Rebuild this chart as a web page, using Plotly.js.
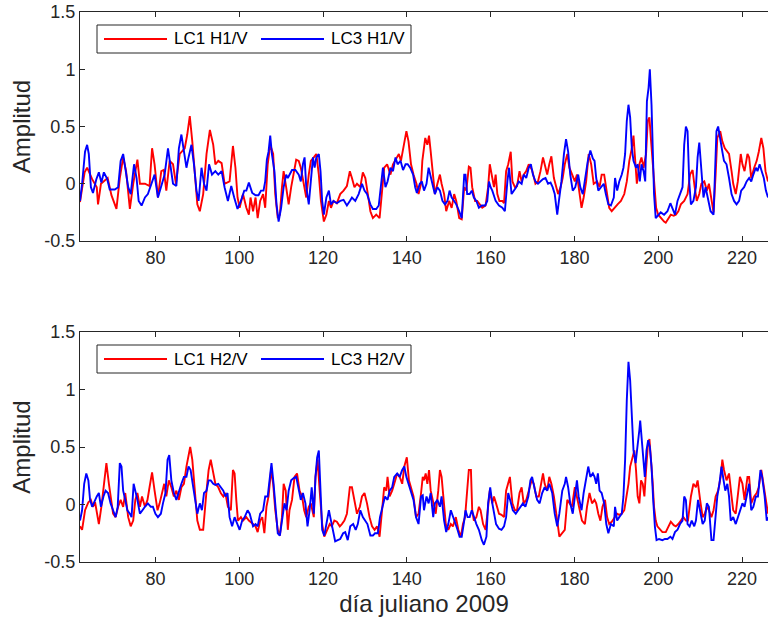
<!DOCTYPE html>
<html>
<head>
<meta charset="utf-8">
<script src="https://cdn.plot.ly/plotly-3.0.1.min.js"></script>
<style>html,body{margin:0;padding:0;background:#fff;}#chart{width:768px;height:625px;}</style>
</head>
<body>
<div id="chart"></div>
<script>
// [día juliano, amplitud] pairs
const lc1H1 = [[62.0,-0.16],[63.1,0.10],[63.7,0.14],[64.9,0.04],[66.0,-0.03],[66.3,-0.18],[67.0,0.00],[68.6,0.05],[69.5,-0.10],[70.7,-0.22],[71.5,0.05],[72.3,0.23],[73.0,0.11],[73.9,-0.22],[74.7,0.0],[75.7,0.21],[76.3,0.0],[77.5,0.0],[78.6,-0.02],[79.2,0.31],[79.8,0.17],[80.6,-0.12],[81.4,0.11],[82.0,0.12],[82.6,-0.06],[83.4,0.20],[84.2,0.17],[84.9,0.00],[85.8,0.26],[87.0,0.31],[87.6,0.43],[88.2,0.59],[88.8,0.37],[89.4,0.11],[90.0,-0.18],[90.6,-0.24],[91.4,-0.09],[92.2,0.26],[93.0,0.47],[93.8,0.34],[94.3,0.17],[95.0,0.20],[95.8,0.18],[96.5,0.00],[97.7,0.02],[98.5,0.33],[99.1,0.14],[99.6,-0.12],[100.1,-0.21],[100.9,-0.09],[101.7,-0.21],[102.3,-0.27],[102.7,-0.12],[103.3,-0.24],[103.9,-0.12],[104.4,-0.30],[105.0,-0.15],[105.7,-0.09],[106.2,-0.21],[106.8,0.17],[107.4,0.34],[108.1,0.26],[108.6,-0.09],[109.2,-0.30],[109.7,-0.27],[110.2,-0.03],[110.6,0.11],[111.2,-0.03],[111.8,-0.18],[112.4,-0.03],[113.0,0.11],[113.6,0.21],[114.2,0.20],[114.7,0.14],[115.4,0.00],[116.0,-0.12],[116.6,0.08],[117.1,0.20],[117.8,0.23],[118.4,0.26],[119.0,0.08],[119.5,-0.15],[120.2,-0.33],[120.8,-0.27],[121.4,-0.15],[121.9,-0.21],[122.5,-0.15],[123.3,-0.17],[124.1,-0.09],[124.9,-0.06],[125.7,-0.02],[126.4,0.11],[126.9,0.05],[127.5,-0.03],[128.1,0.00],[128.9,-0.03],[129.5,0.10],[130.1,0.05],[130.7,-0.09],[131.3,-0.24],[131.9,-0.30],[132.7,-0.27],[133.5,-0.30],[134.1,-0.03],[134.6,0.14],[135.3,0.17],[136.1,0.08],[136.7,0.17],[137.5,0.23],[138.1,0.26],[138.6,0.20],[139.3,0.34],[139.9,0.46],[140.4,0.37],[141.0,0.17],[141.6,0.08],[142.3,0.00],[142.8,-0.09],[143.4,0.00],[143.7,0.20],[144.4,0.40],[144.9,0.34],[145.3,0.42],[145.7,0.28],[146.1,0.11],[146.7,-0.09],[147.3,0.00],[147.9,0.08],[148.3,0.00],[148.9,-0.09],[149.4,-0.24],[150.1,-0.15],[150.7,-0.21],[151.3,-0.09],[151.8,-0.15],[152.5,-0.30],[153.1,-0.31],[153.7,-0.03],[154.2,-0.06],[154.8,0.15],[155.2,0.14],[155.6,-0.03],[156.3,-0.15],[156.8,-0.15],[157.4,-0.18],[158.0,-0.21],[158.8,-0.19],[159.4,-0.03],[159.8,0.17],[160.2,0.08],[160.8,-0.03],[161.2,0.08],[161.6,-0.09],[162.1,-0.15],[162.8,-0.15],[163.2,-0.17],[163.7,0.11],[164.2,0.17],[164.8,0.28],[165.2,0.02],[165.8,-0.03],[166.3,-0.02],[166.9,0.11],[167.4,0.02],[167.9,0.08],[168.5,0.11],[169.1,0.17],[169.9,0.12],[170.7,0.00],[171.3,0.02],[171.9,0.11],[172.5,0.23],[172.9,0.17],[173.5,0.08],[174.0,0.17],[174.5,0.24],[175.1,0.05],[175.5,0.00],[176.1,-0.09],[176.7,-0.03],[177.2,0.05],[177.7,0.17],[178.3,0.26],[178.8,0.14],[179.4,0.08],[180.1,0.02],[180.6,0.08],[181.2,-0.06],[181.7,-0.21],[182.2,-0.12],[182.8,0.02],[183.4,0.26],[184.0,0.17],[184.6,0.00],[185.4,0.02],[186.0,-0.03],[186.5,0.08],[187.1,0.08],[187.8,-0.09],[188.3,-0.21],[188.9,-0.24],[189.5,-0.21],[190.3,-0.18],[191.1,-0.15],[191.9,-0.09],[192.5,0.02],[193.1,0.20],[193.7,0.31],[194.1,0.42],[194.4,0.26],[194.9,0.00],[195.5,0.17],[196.0,0.23],[196.5,0.14],[197.1,0.26],[197.5,0.55],[197.9,0.58],[198.3,0.37],[198.7,0.20],[199.0,0.00],[199.5,-0.21],[200.0,-0.27],[200.6,-0.30],[201.4,-0.33],[201.8,-0.34],[202.4,-0.31],[203.0,-0.27],[203.7,-0.28],[204.2,-0.27],[204.8,-0.24],[205.4,-0.18],[206.2,-0.15],[207.0,-0.09],[207.6,0.08],[208.2,0.12],[208.7,-0.03],[209.2,-0.15],[209.8,-0.09],[210.3,0.00],[211.0,0.02],[211.6,-0.06],[212.1,0.00],[212.7,-0.15],[213.2,-0.25],[213.7,0.08],[214.1,0.40],[214.8,0.46],[215.3,0.37],[215.9,0.31],[216.5,0.28],[216.9,0.26],[217.5,0.11],[217.9,0.00],[218.5,-0.09],[219.0,0.02],[219.7,0.26],[220.1,0.17],[220.6,0.11],[221.3,0.26],[221.7,0.23],[222.2,0.05],[222.9,0.14],[223.5,0.20],[224.0,0.28],[224.6,0.40],[225.1,0.31],[225.6,0.11],[226.2,0.02]];

const lc3H1 = [[62.0,-0.15],[62.5,0.00],[63.2,0.28],[63.7,0.34],[64.1,0.26],[64.6,-0.03],[65.1,-0.08],[65.9,0.04],[66.5,0.10],[67.1,0.01],[67.7,0.10],[68.5,0.04],[69.1,-0.05],[70.3,-0.05],[71.1,-0.03],[71.7,0.20],[72.3,0.26],[72.8,0.14],[73.5,-0.03],[74.1,-0.09],[74.9,0.17],[75.5,0.05],[76.0,-0.15],[76.7,-0.19],[77.5,-0.12],[78.2,-0.09],[79.0,0.00],[79.8,0.08],[80.6,-0.12],[81.4,-0.03],[82.2,0.08],[83.0,0.31],[83.7,0.14],[84.2,0.00],[85.0,-0.02],[85.6,0.31],[86.2,0.43],[86.8,0.26],[87.4,0.14],[87.9,0.23],[88.6,0.34],[89.2,0.17],[89.8,-0.06],[90.3,-0.15],[91.0,0.14],[91.6,0.00],[92.2,-0.06],[92.8,0.17],[93.5,0.08],[94.3,0.11],[95.0,0.08],[95.8,0.11],[96.5,-0.03],[97.3,-0.15],[98.1,-0.02],[98.8,-0.12],[99.6,-0.22],[100.4,-0.15],[101.2,-0.06],[101.7,-0.06],[102.3,0.01],[103.1,-0.08],[103.9,-0.10],[104.6,-0.10],[105.2,-0.06],[105.8,-0.06],[106.2,0.02],[106.6,0.21],[107.0,0.28],[107.4,0.42],[107.8,0.26],[108.4,0.11],[108.9,-0.18],[109.4,-0.33],[110.0,-0.21],[110.6,-0.03],[111.2,0.08],[111.6,0.05],[112.0,0.08],[112.6,0.12],[113.4,0.12],[114.2,0.08],[114.7,0.02],[115.2,0.17],[115.6,0.23],[116.0,-0.03],[116.6,-0.18],[117.1,0.02],[117.6,0.23],[118.0,0.14],[118.4,0.23],[119.0,0.26],[119.4,0.11],[119.8,-0.15],[120.2,-0.27],[120.8,-0.12],[121.4,-0.06],[121.9,-0.18],[122.5,-0.15],[123.3,-0.17],[124.1,-0.15],[124.9,-0.14],[125.7,-0.19],[126.4,-0.15],[126.9,-0.12],[127.7,-0.15],[128.5,-0.09],[129.3,0.00],[129.9,-0.06],[130.5,-0.09],[131.3,-0.18],[131.9,-0.22],[132.7,-0.22],[133.3,-0.19],[133.8,0.00],[134.3,0.14],[134.9,-0.03],[135.4,0.02],[136.1,0.14],[136.7,0.11],[137.3,0.23],[137.8,0.17],[138.5,0.20],[139.1,0.12],[139.7,0.17],[140.2,0.17],[140.8,0.14],[141.5,0.08],[142.0,-0.03],[142.4,-0.08],[143.1,0.00],[143.6,0.02],[144.1,-0.06],[144.7,0.00],[145.2,0.14],[145.7,0.05],[146.3,-0.03],[146.7,-0.09],[147.3,-0.03],[147.9,-0.06],[148.5,-0.15],[149.1,-0.18],[149.7,-0.15],[150.2,-0.06],[150.7,-0.12],[151.3,-0.15],[151.8,-0.18],[152.5,-0.24],[153.1,-0.30],[153.7,0.08],[154.0,0.08],[154.4,-0.09],[155.0,-0.09],[155.5,-0.06],[156.0,-0.12],[156.6,-0.15],[157.2,-0.21],[157.9,-0.19],[158.7,-0.19],[159.2,-0.15],[159.6,0.02],[160.0,-0.03],[160.4,-0.06],[161.2,-0.15],[162.0,-0.19],[162.8,-0.21],[163.4,-0.24],[164.0,0.02],[164.4,0.14],[165.0,-0.09],[165.6,-0.06],[166.1,-0.03],[166.7,0.02],[167.4,0.00],[167.9,0.08],[168.5,0.05],[169.1,0.14],[169.6,0.17],[170.1,0.08],[170.7,0.02],[171.3,0.00],[171.9,0.02],[172.5,0.04],[173.1,0.05],[173.7,0.00],[174.3,0.01],[174.8,-0.03],[175.3,-0.09],[175.9,-0.27],[176.3,-0.15],[176.9,0.02],[177.5,0.26],[178.0,0.39],[178.5,0.28],[179.0,0.08],[179.6,-0.06],[180.2,-0.03],[180.9,0.08],[181.4,-0.03],[182.0,-0.09],[182.6,0.05],[183.2,0.20],[183.8,0.29],[184.4,0.22],[184.8,0.20],[185.2,0.05],[185.7,-0.06],[186.3,-0.03],[187.0,0.00],[187.5,-0.09],[188.1,-0.18],[188.7,-0.19],[189.4,-0.12],[189.7,0.05],[190.2,-0.06],[190.7,0.02],[191.3,0.08],[191.7,0.14],[192.1,0.26],[192.5,0.55],[192.9,0.69],[193.3,0.58],[193.7,0.31],[194.1,0.20],[194.7,0.14],[195.1,0.17],[195.6,0.02],[196.0,0.17],[196.5,0.11],[196.9,0.02],[197.3,0.72],[197.7,0.84],[198.0,1.00],[198.4,0.69],[198.7,0.26],[199.0,-0.09],[199.4,-0.30],[200.0,-0.27],[200.6,-0.25],[201.4,-0.27],[202.2,-0.24],[202.9,-0.17],[203.4,-0.21],[204.0,-0.27],[204.6,-0.15],[205.2,-0.09],[205.8,-0.03],[206.2,0.34],[206.6,0.50],[207.0,0.46],[207.4,0.02],[207.8,-0.18],[208.4,-0.15],[209.0,-0.03],[209.4,0.23],[209.8,0.36],[210.2,0.17],[210.8,-0.12],[211.3,-0.03],[211.9,-0.15],[212.5,-0.24],[213.2,-0.27],[213.5,0.08],[213.9,0.46],[214.3,0.50],[214.8,0.37],[215.3,0.28],[215.7,0.20],[216.3,0.17],[216.9,0.05],[217.5,-0.09],[218.1,-0.15],[218.7,-0.18],[219.3,-0.15],[219.8,-0.06],[220.5,-0.03],[221.1,0.02],[221.7,0.05],[222.2,0.02],[222.7,0.08],[223.3,0.14],[223.7,0.11],[224.2,0.17],[224.7,0.11],[225.2,0.05],[225.7,-0.06],[226.2,-0.12]];

const lc1H2 = [[62.0,-0.19],[62.5,-0.22],[63.2,-0.05],[64.0,0.02],[64.6,0.04],[65.1,-0.02],[65.6,0.02],[66.2,-0.11],[66.5,-0.17],[67.1,-0.02],[67.7,0.18],[68.3,0.36],[68.9,0.18],[69.5,0.01],[69.9,-0.08],[70.5,-0.11],[71.1,-0.02],[71.7,0.04],[72.3,-0.02],[72.8,0.10],[73.5,-0.11],[74.1,-0.19],[74.7,-0.14],[75.2,0.04],[75.7,0.10],[76.3,-0.02],[76.8,0.07],[77.5,-0.02],[78.1,0.04],[78.6,0.15],[79.2,0.28],[79.8,0.12],[80.5,-0.05],[81.0,0.01],[81.6,0.12],[82.1,0.18],[82.6,0.07],[83.2,0.21],[83.8,0.15],[84.4,0.07],[85.0,0.12],[85.6,0.04],[86.2,0.15],[86.8,0.18],[87.4,0.33],[87.9,0.44],[88.3,0.50],[88.8,0.39],[89.4,0.12],[90.0,-0.14],[90.6,-0.22],[91.4,-0.22],[92.2,0.12],[92.7,0.30],[93.2,0.39],[93.8,0.27],[94.3,0.18],[95.0,0.15],[95.6,0.10],[96.2,0.07],[96.7,0.10],[97.3,-0.02],[98.0,-0.05],[98.5,0.30],[98.9,0.27],[99.3,0.04],[99.7,-0.14],[100.4,-0.11],[100.9,-0.14],[101.7,-0.11],[102.3,-0.14],[103.3,-0.17],[103.9,-0.19],[104.4,-0.24],[105.0,-0.14],[105.5,-0.11],[106.0,-0.25],[106.5,-0.02],[107.0,0.07],[107.6,0.30],[108.1,0.18],[108.6,-0.05],[109.2,-0.22],[109.7,-0.27],[110.2,-0.11],[110.6,0.18],[111.1,0.12],[111.6,-0.22],[112.0,-0.05],[112.6,0.04],[113.2,0.24],[113.8,0.27],[114.4,0.12],[115.0,0.07],[115.5,-0.05],[116.0,-0.11],[116.6,-0.02],[117.1,0.01],[117.8,-0.11],[118.2,0.24],[118.7,0.39],[119.2,0.12],[119.8,-0.17],[120.3,-0.28],[121.0,-0.22],[121.6,-0.17],[122.1,-0.19],[122.7,-0.14],[123.3,-0.15],[124.0,-0.19],[124.5,-0.17],[125.1,-0.14],[125.7,-0.08],[126.4,0.15],[126.9,0.15],[127.5,0.04],[128.1,-0.08],[128.8,-0.02],[129.3,0.07],[129.9,0.10],[130.5,0.01],[131.1,-0.11],[131.7,-0.19],[132.3,-0.22],[132.9,-0.19],[133.5,-0.28],[134.1,-0.05],[134.6,0.15],[135.1,0.12],[135.4,0.24],[135.9,0.07],[136.5,0.12],[137.0,0.18],[137.7,0.27],[138.3,0.24],[138.9,0.18],[139.4,0.33],[140.0,0.41],[140.5,0.21],[141.0,0.15],[141.6,0.07],[142.2,-0.11],[142.8,-0.08],[143.4,0.10],[143.8,0.24],[144.1,0.21],[144.5,0.27],[144.9,0.18],[145.3,0.30],[145.7,0.12],[146.3,0.01],[146.9,-0.08],[147.5,0.12],[147.9,0.30],[148.3,0.24],[148.8,0.04],[149.3,-0.17],[149.9,-0.22],[150.5,-0.17],[151.0,-0.19],[151.7,-0.11],[152.3,-0.22],[152.9,-0.28],[153.4,-0.17],[153.9,-0.11],[154.4,0.12],[154.8,0.30],[155.3,0.30],[155.6,-0.05],[156.0,-0.14],[156.6,-0.11],[157.2,-0.02],[157.6,-0.05],[158.2,-0.17],[158.8,-0.22],[159.4,-0.02],[159.8,0.12],[160.4,0.01],[160.8,0.07],[161.3,0.01],[162.0,-0.08],[162.6,-0.09],[163.2,-0.11],[163.7,0.12],[164.2,0.18],[164.6,0.24],[165.2,0.01],[165.8,-0.05],[166.3,-0.05],[166.9,0.10],[167.4,0.15],[167.9,0.01],[168.5,0.04],[169.1,0.12],[169.8,0.21],[170.3,0.18],[170.9,0.07],[171.5,0.07],[172.1,0.21],[172.5,0.27],[172.9,0.18],[173.5,0.12],[174.0,0.24],[174.5,0.18],[175.1,0.07],[175.5,-0.02],[175.9,-0.14],[176.4,-0.28],[177.1,-0.25],[177.7,-0.22],[178.3,0.04],[178.8,0.01],[179.4,-0.02],[180.1,0.15],[180.6,0.07],[181.2,-0.05],[181.8,-0.14],[182.5,-0.17],[183.0,-0.02],[183.6,0.10],[184.2,0.01],[184.8,0.04],[185.2,0.01],[185.7,-0.08],[186.2,-0.14],[186.7,-0.02],[187.3,0.04],[187.8,-0.11],[188.3,-0.17],[188.9,-0.15],[189.5,-0.12],[190.2,-0.08],[190.7,-0.09],[191.3,-0.08],[191.9,-0.05],[192.4,0.07],[192.9,0.18],[193.3,0.33],[193.9,0.41],[194.3,0.47],[194.7,0.30],[195.1,0.07],[195.5,0.01],[195.9,0.21],[196.3,0.18],[196.7,0.07],[197.1,0.30],[197.5,0.50],[197.9,0.57],[198.3,0.41],[198.7,0.18],[199.0,-0.02],[199.4,-0.14],[199.8,-0.19],[200.5,-0.22],[201.0,-0.24],[201.8,-0.24],[202.4,-0.19],[203.0,-0.15],[203.7,-0.18],[204.2,-0.19],[204.8,-0.17],[205.4,-0.14],[206.0,-0.11],[206.6,-0.14],[207.1,-0.14],[207.8,0.07],[208.4,0.18],[209.0,0.15],[209.4,0.21],[210.0,0.04],[210.6,-0.11],[211.1,-0.08],[211.6,-0.02],[212.1,-0.05],[212.7,-0.11],[213.2,-0.05],[213.7,0.07],[214.3,0.12],[214.9,0.24],[215.3,0.39],[215.7,0.30],[216.3,0.21],[216.9,0.27],[217.5,0.07],[217.9,-0.05],[218.5,-0.08],[219.0,0.10],[219.5,0.24],[220.1,0.18],[220.6,0.04],[221.3,0.24],[221.7,0.24],[222.2,0.01],[222.9,0.07],[223.5,0.10],[224.0,0.15],[224.6,0.30],[225.1,0.18],[225.6,0.04],[226.2,-0.08]];

const lc3H2 = [[62.0,-0.14],[62.5,-0.05],[63.0,0.18],[63.5,0.27],[64.0,0.21],[64.4,0.04],[64.9,-0.02],[65.6,0.04],[66.0,0.07],[66.5,0.10],[67.0,-0.02],[67.6,0.07],[68.1,0.12],[68.7,0.10],[69.3,0.01],[69.9,-0.05],[70.5,-0.11],[71.0,-0.02],[71.5,0.36],[71.9,0.33],[72.3,0.12],[72.8,0.04],[73.3,-0.05],[73.9,-0.08],[74.3,-0.11],[74.8,0.18],[75.2,0.12],[75.7,0.04],[76.3,-0.08],[76.8,-0.05],[77.5,-0.02],[78.2,0.01],[78.9,-0.02],[79.4,-0.02],[80.0,-0.08],[80.6,-0.11],[81.3,-0.08],[81.8,0.01],[82.4,0.10],[82.9,0.39],[83.3,0.43],[83.8,0.21],[84.4,0.10],[85.0,0.04],[85.6,0.12],[86.2,0.18],[86.8,0.24],[87.4,0.24],[87.9,0.33],[88.4,0.30],[88.9,0.18],[89.5,0.01],[90.0,-0.08],[90.6,0.01],[91.1,-0.05],[91.6,0.10],[92.2,0.12],[92.7,0.21],[93.2,0.21],[93.8,0.18],[94.3,0.17],[95.0,0.18],[95.6,0.15],[96.2,0.12],[96.7,0.07],[97.2,0.10],[97.7,-0.11],[98.3,-0.19],[98.9,-0.11],[99.6,-0.17],[100.1,-0.22],[100.7,-0.14],[101.3,-0.11],[102.0,-0.05],[102.5,-0.08],[103.3,-0.19],[103.9,-0.17],[104.4,-0.19],[105.0,-0.08],[105.7,-0.05],[106.2,0.07],[106.8,0.07],[107.3,0.24],[107.7,0.36],[108.2,0.18],[108.7,-0.08],[109.2,-0.25],[109.7,-0.27],[110.2,-0.14],[110.8,0.01],[111.3,-0.05],[111.8,0.12],[112.4,0.21],[113.0,0.23],[113.6,0.24],[114.2,0.12],[114.7,0.04],[115.2,0.10],[115.8,0.01],[116.3,-0.19],[116.8,-0.05],[117.3,0.15],[117.8,-0.08],[118.2,0.24],[118.6,0.41],[119.0,0.47],[119.4,0.18],[119.8,-0.22],[120.3,-0.27],[120.8,-0.17],[121.4,-0.05],[121.9,-0.14],[122.4,-0.25],[122.9,-0.32],[123.5,-0.31],[124.1,-0.30],[124.8,-0.25],[125.3,-0.24],[125.9,-0.31],[126.5,-0.19],[127.2,-0.17],[127.8,-0.22],[128.3,-0.17],[128.9,-0.05],[129.5,-0.11],[130.1,-0.14],[130.6,-0.17],[131.3,-0.27],[131.9,-0.27],[132.4,-0.25],[133.1,-0.25],[133.6,-0.11],[134.3,0.01],[134.8,0.07],[135.4,0.04],[135.9,0.12],[136.5,0.15],[137.0,0.24],[137.7,0.27],[138.3,0.24],[138.9,0.30],[139.4,0.33],[139.9,0.24],[140.4,0.18],[141.0,0.12],[141.6,0.04],[142.2,-0.11],[142.8,-0.17],[143.4,0.07],[143.8,0.08],[144.1,-0.05],[144.7,0.07],[145.2,0.01],[145.7,0.10],[146.3,-0.11],[146.7,0.01],[147.3,0.04],[147.9,-0.02],[148.3,0.07],[148.9,-0.14],[149.4,-0.24],[149.9,-0.17],[150.5,-0.05],[151.0,-0.11],[151.5,-0.17],[152.1,-0.22],[152.6,-0.28],[153.1,-0.28],[153.7,-0.14],[154.0,-0.05],[154.5,-0.11],[155.0,-0.11],[155.5,-0.05],[156.0,-0.11],[156.6,-0.17],[157.2,-0.22],[157.9,-0.31],[158.4,-0.35],[159.0,-0.28],[159.4,0.01],[159.9,0.15],[160.4,0.01],[160.9,-0.11],[161.3,-0.17],[162.0,-0.21],[162.6,-0.22],[163.2,-0.19],[163.7,-0.11],[164.2,0.10],[164.8,0.01],[165.3,-0.05],[166.0,-0.08],[166.6,-0.05],[167.1,-0.02],[167.7,0.01],[168.3,-0.02],[169.0,0.07],[169.5,0.21],[169.9,0.24],[170.6,0.12],[171.1,0.04],[171.7,0.01],[172.3,0.10],[172.9,0.15],[173.5,0.12],[174.0,0.18],[174.7,0.10],[175.3,-0.08],[175.9,-0.19],[176.4,-0.08],[177.1,0.12],[177.7,0.18],[178.0,0.24],[178.5,0.15],[179.0,0.01],[179.6,-0.08],[180.1,0.07],[180.6,0.21],[181.0,0.07],[181.7,-0.05],[182.2,0.10],[182.8,0.24],[183.3,0.33],[183.8,0.24],[184.4,0.27],[184.8,0.24],[185.2,0.18],[185.6,0.27],[186.0,0.12],[186.5,0.10],[187.1,0.01],[187.6,-0.17],[188.1,-0.25],[188.7,-0.17],[189.4,-0.19],[189.7,-0.02],[190.2,-0.14],[190.7,-0.11],[191.3,-0.08],[191.7,0.07],[192.1,0.39],[192.5,0.91],[192.9,1.24],[193.3,1.08],[193.7,0.70],[194.1,0.47],[194.6,0.36],[195.1,0.50],[195.5,0.65],[195.7,0.73],[196.0,0.59],[196.4,0.36],[196.8,0.24],[197.2,0.47],[197.6,0.56],[198.0,0.50],[198.4,0.33],[198.8,0.04],[199.2,-0.19],[199.6,-0.31],[200.2,-0.30],[201.0,-0.31],[201.6,-0.30],[202.2,-0.30],[202.9,-0.28],[203.4,-0.30],[204.0,-0.24],[204.6,-0.22],[205.2,-0.17],[205.8,-0.14],[206.2,0.07],[206.6,0.04],[207.0,-0.17],[207.5,-0.19],[208.0,-0.14],[208.6,-0.19],[209.0,-0.14],[209.5,0.04],[210.0,-0.05],[210.6,-0.17],[211.1,-0.14],[211.6,0.01],[212.1,-0.02],[212.7,-0.31],[213.2,-0.31],[213.7,-0.11],[214.1,0.07],[214.6,0.18],[215.1,0.33],[215.6,0.21],[216.0,0.12],[216.5,0.18],[216.9,0.07],[217.3,-0.14],[217.9,-0.11],[218.5,-0.17],[219.0,-0.11],[219.5,-0.05],[220.1,0.01],[220.6,-0.02],[221.3,0.12],[221.7,0.18],[222.2,-0.05],[222.7,-0.02],[223.3,0.07],[223.8,0.07],[224.4,0.30],[224.8,0.24],[225.4,0.07],[225.9,-0.14],[226.2,-0.11]];

const seriesNames = ["LC1 H1/V", "LC3 H1/V", "LC1 H2/V", "LC3 H2/V"];
const xTickVals = [80, 100, 120, 140, 160, 180, 200, 220];
const yTickVals = [-0.5, 0, 0.5, 1, 1.5];
const yTickText = ["-0.5", "0", "0.5", "1", "1.5"];
const xTitle = "día juliano 2009";
const yTitle = "Amplitud";

const RED = "#ff0000", BLUE = "#0000ff", AX = "#262626";
const FONT = "Liberation Sans, Arial, sans-serif";
const W = 768, H = 625, ML = 80, MR = 0, MT = 12, MB = 63;
const PW = W - ML - MR, PH = H - MT - MB;
const px2x = p => (p - ML) / PW;          // pixel -> paper x
const px2y = p => (H - MB - p) / PH;      // pixel -> paper y

function tr(data, name, color, xa, ya) {
  return {
    x: data.map(p => p[0]), y: data.map(p => p[1]),
    type: "scatter", mode: "lines", name: name,
    line: {color: color, width: 1.9},
    xaxis: xa, yaxis: ya, hoverinfo: "skip", showlegend: false
  };
}
const traces = [
  tr(lc1H1, seriesNames[0], RED, "x", "y"),
  tr(lc3H1, seriesNames[1], BLUE, "x", "y"),
  tr(lc1H2, seriesNames[2], RED, "x2", "y2"),
  tr(lc3H2, seriesNames[3], BLUE, "x2", "y2")
];

function xax(anchor, withTitle) {
  const a = {
    anchor: anchor, range: [62, 226.2], tickvals: xTickVals,
    ticks: "inside", ticklen: 5, tickwidth: 1, tickcolor: AX,
    showline: true, linecolor: AX, linewidth: 1, mirror: "ticks",
    showgrid: false, zeroline: false,
    tickfont: {family: FONT, size: 18, color: AX}
  };
  if (withTitle) a.title = {text: xTitle, font: {family: FONT, size: 24, color: AX}, standoff: 7};
  return a;
}
function yax(anchor, dom) {
  return {
    anchor: anchor, domain: dom, range: [-0.5, 1.5],
    tickvals: yTickVals, ticktext: yTickText,
    ticks: "inside", ticklen: 5, tickwidth: 1, tickcolor: AX,
    showline: true, linecolor: AX, linewidth: 1, mirror: false,
    showgrid: false, zeroline: false,
    tickfont: {family: FONT, size: 18, color: AX},
    title: {text: yTitle, font: {family: FONT, size: 24, color: AX}, standoff: 6}
  };
}

// legend boxes drawn as shapes + text annotations (pixel positions of the reference)
const shapes = [], annotations = [];
function legendBox(topPx, names) {
  const bot = topPx + 28, mid = topPx + 14;
  shapes.push({type: "rect", xref: "paper", yref: "paper",
    x0: px2x(97), x1: px2x(411), y0: px2y(bot), y1: px2y(topPx),
    line: {color: AX, width: 1}, fillcolor: "#ffffff", layer: "above"});
  const items = [{x0: 104, x1: 167, tx: 172, c: RED, n: names[0]},
                 {x0: 261, x1: 324, tx: 329, c: BLUE, n: names[1]}];
  items.forEach(it => {
    shapes.push({type: "line", xref: "paper", yref: "paper",
      x0: px2x(it.x0), x1: px2x(it.x1), y0: px2y(mid), y1: px2y(mid),
      line: {color: it.c, width: 2}, layer: "above"});
    annotations.push({xref: "paper", yref: "paper", x: px2x(it.tx), y: px2y(mid),
      xanchor: "left", yanchor: "middle", showarrow: false, text: it.n,
      font: {family: FONT, size: 17, color: "#000000"}});
  });
}
legendBox(25, [seriesNames[0], seriesNames[1]]);
legendBox(345, [seriesNames[2], seriesNames[3]]);

const layout = {
  width: W, height: H,
  margin: {l: ML, r: MR, t: MT, b: MB},
  paper_bgcolor: "#ffffff", plot_bgcolor: "#ffffff",
  showlegend: false,
  xaxis: xax("y", false),
  yaxis: yax("x", [(H - MB - 241) / PH, 1]),
  xaxis2: xax("y2", true),
  yaxis2: yax("x2", [0, (H - MB - 332) / PH]),
  shapes: shapes, annotations: annotations
};

Plotly.newPlot("chart", traces, layout, {staticPlot: true, displayModeBar: false});
</script>
</body>
</html>
